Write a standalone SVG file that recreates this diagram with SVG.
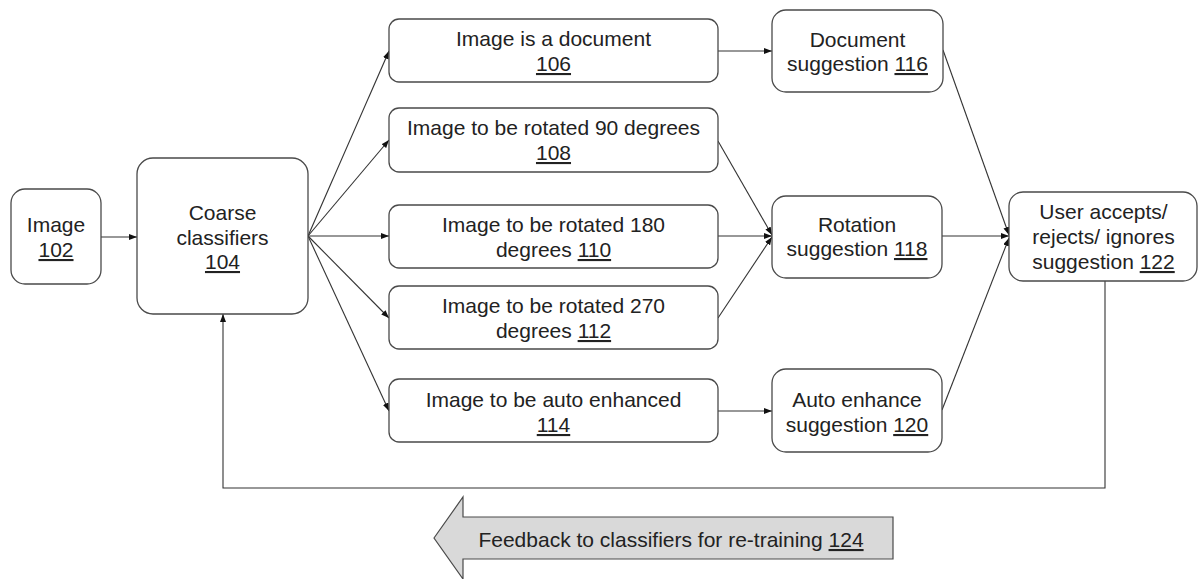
<svg xmlns="http://www.w3.org/2000/svg" width="1198" height="579" viewBox="0 0 1198 579">
  <style>
    .box { fill: #ffffff; stroke: #4a4a4a; stroke-width: 1.3; }
    .lbl { font-family: "Liberation Sans", Arial, sans-serif; font-size: 21px; fill: #222222; text-anchor: middle; }
    .num { text-decoration: underline; }
    .edge { fill: none; stroke: #333333; stroke-width: 1.1; marker-end: url(#head); }
    .big { fill: #d9d9d9; stroke: #4a4a4a; stroke-width: 1.2; }
  </style>
  <defs>
    <marker id="head" viewBox="0 0 8 6" refX="8" refY="3" markerWidth="8" markerHeight="6" markerUnits="userSpaceOnUse" orient="auto">
      <path d="M0,0 L8,3 L0,6 Z" fill="#111111"/>
    </marker>
  </defs>

  <!-- connectors -->
  <g id="connectors">
    <line class="edge" x1="101" y1="237" x2="137" y2="237"/>
    <line class="edge" x1="308" y1="236" x2="389" y2="51"/>
    <line class="edge" x1="308" y1="236" x2="389" y2="140"/>
    <line class="edge" x1="308" y1="236" x2="389" y2="236"/>
    <line class="edge" x1="308" y1="236" x2="389" y2="318"/>
    <line class="edge" x1="308" y1="236" x2="389" y2="411"/>
    <line class="edge" x1="718" y1="51" x2="772" y2="51"/>
    <line class="edge" x1="718" y1="141" x2="772" y2="235"/>
    <line class="edge" x1="718" y1="236" x2="772" y2="236"/>
    <line class="edge" x1="718" y1="318" x2="772" y2="237"/>
    <line class="edge" x1="718" y1="411" x2="772" y2="411"/>
    <line class="edge" x1="943" y1="50" x2="1009" y2="235"/>
    <line class="edge" x1="942" y1="236" x2="1009" y2="236"/>
    <line class="edge" x1="942" y1="410" x2="1009" y2="238"/>
    <path class="edge" d="M1105,281 V488 H223 V314"/>
  </g>

  <g id="n102">
    <rect class="box" x="11" y="189" width="90" height="95" rx="14"/>
    <text class="lbl" x="56" y="232">Image</text>
    <text class="lbl" x="56" y="257"><tspan class="num">102</tspan></text>
  </g>

  <g id="n104">
    <rect class="box" x="137" y="158" width="171" height="156" rx="16"/>
    <text class="lbl" x="222.5" y="220">Coarse</text>
    <text class="lbl" x="222.5" y="245">classifiers</text>
    <text class="lbl" x="222.5" y="269"><tspan class="num">104</tspan></text>
  </g>

  <g id="n106">
    <rect class="box" x="389" y="19" width="329" height="63" rx="10"/>
    <text class="lbl" x="553.5" y="46">Image is a document</text>
    <text class="lbl" x="553.5" y="71"><tspan class="num">106</tspan></text>
  </g>

  <g id="n108">
    <rect class="box" x="389" y="108" width="329" height="64" rx="10"/>
    <text class="lbl" x="553.5" y="135">Image to be rotated 90 degrees</text>
    <text class="lbl" x="553.5" y="160"><tspan class="num">108</tspan></text>
  </g>

  <g id="n110">
    <rect class="box" x="389" y="205" width="329" height="63" rx="10"/>
    <text class="lbl" x="553.5" y="232">Image to be rotated 180</text>
    <text class="lbl" x="553.5" y="257">degrees <tspan class="num">110</tspan></text>
  </g>

  <g id="n112">
    <rect class="box" x="389" y="286" width="329" height="63" rx="10"/>
    <text class="lbl" x="553.5" y="313">Image to be rotated 270</text>
    <text class="lbl" x="553.5" y="338">degrees <tspan class="num">112</tspan></text>
  </g>

  <g id="n114">
    <rect class="box" x="389" y="379" width="329" height="63" rx="10"/>
    <text class="lbl" x="553.5" y="407">Image to be auto enhanced</text>
    <text class="lbl" x="553.5" y="432"><tspan class="num">114</tspan></text>
  </g>

  <g id="n116">
    <rect class="box" x="772" y="10" width="171" height="82" rx="14"/>
    <text class="lbl" x="857.5" y="47">Document</text>
    <text class="lbl" x="857.5" y="71">suggestion <tspan class="num">116</tspan></text>
  </g>

  <g id="n118">
    <rect class="box" x="772" y="196" width="170" height="82" rx="14"/>
    <text class="lbl" x="857" y="232">Rotation</text>
    <text class="lbl" x="857" y="256">suggestion <tspan class="num">118</tspan></text>
  </g>

  <g id="n120">
    <rect class="box" x="772" y="369" width="170" height="83" rx="14"/>
    <text class="lbl" x="857" y="407">Auto enhance</text>
    <text class="lbl" x="857" y="432">suggestion <tspan class="num">120</tspan></text>
  </g>

  <g id="n122">
    <rect class="box" x="1009" y="192" width="188" height="89" rx="14"/>
    <text class="lbl" x="1103.5" y="219">User accepts/</text>
    <text class="lbl" x="1103.5" y="244">rejects/ ignores</text>
    <text class="lbl" x="1103.5" y="269">suggestion <tspan class="num">122</tspan></text>
  </g>

  <g id="n124">
    <polygon class="big" points="434,538 463,497 463,517 893,517 893,559 463,559 463,579"/>
    <text class="lbl" x="671" y="547">Feedback to classifiers for re-training <tspan class="num">124</tspan></text>
  </g>
</svg>
